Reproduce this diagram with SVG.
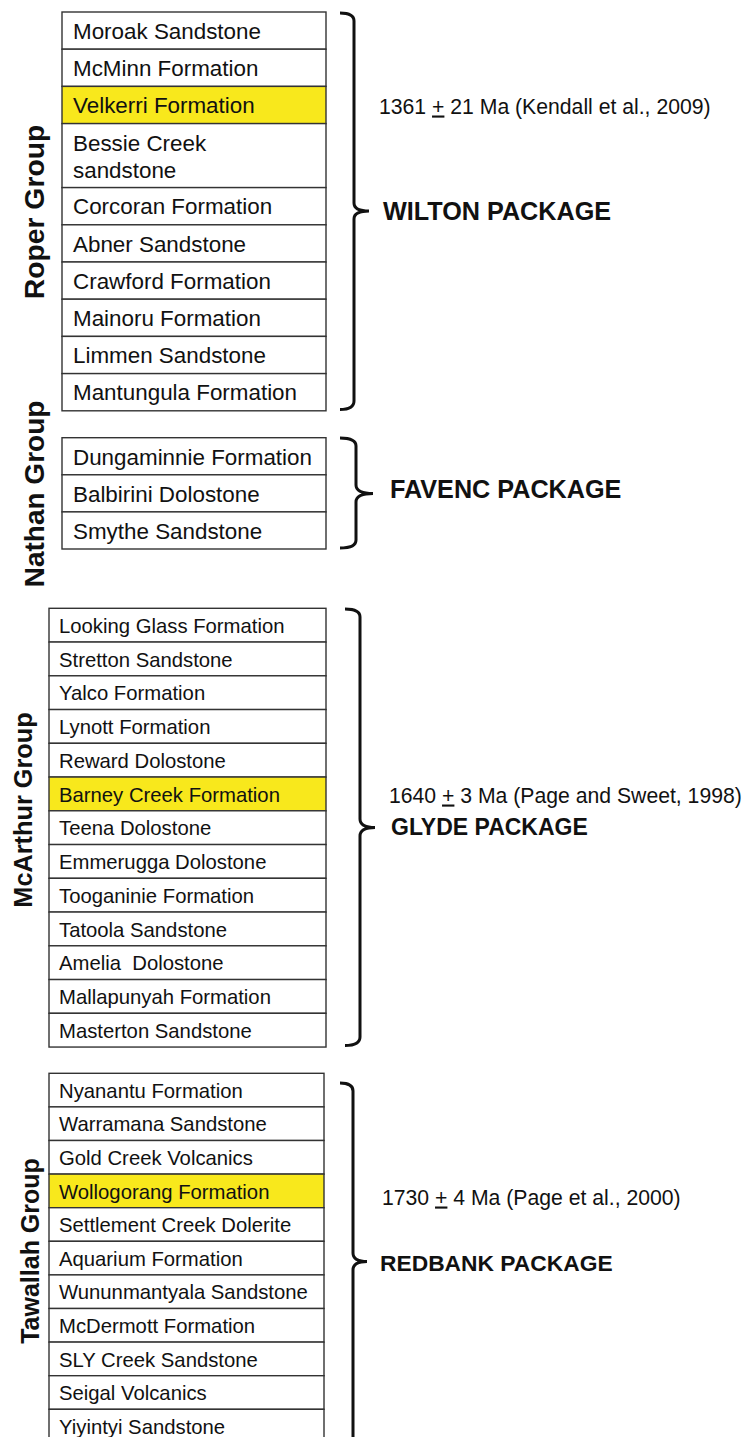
<svg xmlns="http://www.w3.org/2000/svg" width="745" height="1437" viewBox="0 0 745 1437">
<style>
.row{fill:#ffffff;stroke:#333333;stroke-width:1.4}
.hl{fill:#f8e81c;stroke:#333333;stroke-width:1.4}
.t22{font-family:"Liberation Sans",Arial,sans-serif;font-size:22.4px;fill:#111}
.t20{font-family:"Liberation Sans",Arial,sans-serif;font-size:20.3px;fill:#111}
.grp{font-family:"Liberation Sans",Arial,sans-serif;font-weight:bold;fill:#111;text-anchor:middle}
.ann{font-family:"Liberation Sans",Arial,sans-serif;font-size:21.2px;fill:#111}
.pkg{font-family:"Liberation Sans",Arial,sans-serif;font-weight:bold;fill:#111}
.br{fill:none;stroke:#111;stroke-width:3}
</style>
<rect x="0" y="0" width="745" height="1437" fill="#ffffff"/>

<!-- Roper Group -->
<g id="roper">
<g id="r1"><rect class="row" x="62" y="12" width="264" height="37.2"/><text class="t22" x="73" y="38.8">Moroak Sandstone</text></g>
<g id="r2"><rect class="row" x="62" y="49.2" width="264" height="37.2"/><text class="t22" x="73" y="76">McMinn Formation</text></g>
<g id="r3"><rect class="hl" x="62" y="86.4" width="264" height="37.2"/><text class="t22" x="73" y="113.2">Velkerri Formation</text></g>
<g id="r4"><rect class="row" x="62" y="123.6" width="264" height="64"/><text class="t22" x="73" y="151">Bessie Creek</text><text class="t22" x="73" y="177.8">sandstone</text></g>
<g id="r5"><rect class="row" x="62" y="187.6" width="264" height="37.2"/><text class="t22" x="73" y="214.4">Corcoran Formation</text></g>
<g id="r6"><rect class="row" x="62" y="224.8" width="264" height="37.2"/><text class="t22" x="73" y="251.6">Abner Sandstone</text></g>
<g id="r7"><rect class="row" x="62" y="262" width="264" height="37.2"/><text class="t22" x="73" y="288.8">Crawford Formation</text></g>
<g id="r8"><rect class="row" x="62" y="299.2" width="264" height="37.2"/><text class="t22" x="73" y="326">Mainoru Formation</text></g>
<g id="r9"><rect class="row" x="62" y="336.4" width="264" height="37.2"/><text class="t22" x="73" y="363.2">Limmen Sandstone</text></g>
<g id="r10"><rect class="row" x="62" y="373.6" width="264" height="37.2"/><text class="t22" x="73" y="400.4">Mantungula Formation</text></g>
</g>

<!-- Nathan Group -->
<g id="nathan">
<g id="n1"><rect class="row" x="62" y="437.7" width="264" height="37.1"/><text class="t22" x="73" y="464.5">Dungaminnie Formation</text></g>
<g id="n2"><rect class="row" x="62" y="474.8" width="264" height="37.1"/><text class="t22" x="73" y="501.6">Balbirini Dolostone</text></g>
<g id="n3"><rect class="row" x="62" y="511.9" width="264" height="37.1"/><text class="t22" x="73" y="538.7">Smythe Sandstone</text></g>
</g>

<!-- McArthur Group -->
<g id="mcarthur">
<g id="m1"><rect class="row" x="49" y="608.3" width="277" height="33.75"/><text class="t20" x="59" y="632.9">Looking Glass Formation</text></g>
<g id="m2"><rect class="row" x="49" y="642.05" width="277" height="33.75"/><text class="t20" x="59" y="666.6">Stretton Sandstone</text></g>
<g id="m3"><rect class="row" x="49" y="675.8" width="277" height="33.75"/><text class="t20" x="59" y="700.4">Yalco Formation</text></g>
<g id="m4"><rect class="row" x="49" y="709.55" width="277" height="33.75"/><text class="t20" x="59" y="734.1">Lynott Formation</text></g>
<g id="m5"><rect class="row" x="49" y="743.3" width="277" height="33.75"/><text class="t20" x="59" y="767.9">Reward Dolostone</text></g>
<g id="m6"><rect class="hl" x="49" y="777.05" width="277" height="33.75"/><text class="t20" x="59" y="801.6">Barney Creek Formation</text></g>
<g id="m7"><rect class="row" x="49" y="810.8" width="277" height="33.75"/><text class="t20" x="59" y="835.4">Teena Dolostone</text></g>
<g id="m8"><rect class="row" x="49" y="844.55" width="277" height="33.75"/><text class="t20" x="59" y="869.1">Emmerugga Dolostone</text></g>
<g id="m9"><rect class="row" x="49" y="878.3" width="277" height="33.75"/><text class="t20" x="59" y="902.9">Tooganinie Formation</text></g>
<g id="m10"><rect class="row" x="49" y="912.05" width="277" height="33.75"/><text class="t20" x="59" y="936.6">Tatoola Sandstone</text></g>
<g id="m11"><rect class="row" x="49" y="945.8" width="277" height="33.75"/><text class="t20" x="59" y="970.4" xml:space="preserve">Amelia  Dolostone</text></g>
<g id="m12"><rect class="row" x="49" y="979.55" width="277" height="33.75"/><text class="t20" x="59" y="1004.1">Mallapunyah Formation</text></g>
<g id="m13"><rect class="row" x="49" y="1013.3" width="277" height="33.75"/><text class="t20" x="59" y="1037.9">Masterton Sandstone</text></g>
</g>

<!-- Tawallah Group -->
<g id="tawallah">
<g id="w1"><rect class="row" x="49" y="1073.3" width="275" height="33.6"/><text class="t20" x="59" y="1097.8">Nyanantu Formation</text></g>
<g id="w2"><rect class="row" x="49" y="1106.9" width="275" height="33.6"/><text class="t20" x="59" y="1131.4">Warramana Sandstone</text></g>
<g id="w3"><rect class="row" x="49" y="1140.5" width="275" height="33.6"/><text class="t20" x="59" y="1165">Gold Creek Volcanics</text></g>
<g id="w4"><rect class="hl" x="49" y="1174.1" width="275" height="33.6"/><text class="t20" x="59" y="1198.6">Wollogorang Formation</text></g>
<g id="w5"><rect class="row" x="49" y="1207.7" width="275" height="33.6"/><text class="t20" x="59" y="1232.2">Settlement Creek Dolerite</text></g>
<g id="w6"><rect class="row" x="49" y="1241.3" width="275" height="33.6"/><text class="t20" x="59" y="1265.8">Aquarium Formation</text></g>
<g id="w7"><rect class="row" x="49" y="1274.9" width="275" height="33.6"/><text class="t20" x="59" y="1299.4">Wununmantyala Sandstone</text></g>
<g id="w8"><rect class="row" x="49" y="1308.5" width="275" height="33.6"/><text class="t20" x="59" y="1333">McDermott Formation</text></g>
<g id="w9"><rect class="row" x="49" y="1342.1" width="275" height="33.6"/><text class="t20" x="59" y="1366.6">SLY Creek Sandstone</text></g>
<g id="w10"><rect class="row" x="49" y="1375.7" width="275" height="33.6"/><text class="t20" x="59" y="1400.2">Seigal Volcanics</text></g>
<g id="w11"><rect class="row" x="49" y="1409.3" width="275" height="33.6"/><text class="t20" x="59" y="1433.8">Yiyintyi Sandstone</text></g>
</g>

<!-- Group labels -->
<g id="label-roper"><text class="grp" font-size="28.3" transform="translate(44,212) rotate(-90)">Roper Group</text></g>
<g id="label-nathan"><text class="grp" font-size="28" transform="translate(44,494) rotate(-90)">Nathan Group</text></g>
<g id="label-mcarthur"><text class="grp" font-size="25.3" transform="translate(32,810) rotate(-90)">McArthur Group</text></g>
<g id="label-tawallah"><text class="grp" font-size="25" transform="translate(39,1251) rotate(-90)">Tawallah Group</text></g>

<!-- Brackets -->
<g id="connectors">
<path class="br" d="M340 13 Q354 13 354 21 V203 Q354 211 369 211 Q354 211 354 219 V401 Q354 409.5 340 409.5"/>
<path class="br" d="M340 438 Q356 438 356 446 V485 Q356 493.5 373 493.5 Q356 493.5 356 502 V540 Q356 548 340 548"/>
<path class="br" d="M345 609 Q360 609 360 617 V819 Q360 827.5 375 827.5 Q360 827.5 360 836 V1037 Q360 1045.5 345 1045.5"/>
<path class="br" d="M340 1083 Q353 1083 353 1091 V1253 Q353 1261.5 367 1261.5 Q353 1261.5 353 1270 V1440"/>
</g>

<!-- Annotations -->
<g id="ann-wilton">
<text class="ann" x="379" y="113.5">1361 <tspan text-decoration="underline">+</tspan> 21 Ma (Kendall et al., 2009)</text>
<text class="pkg" font-size="25.2" x="383" y="220">WILTON PACKAGE</text>
</g>
<g id="ann-favenc">
<text class="pkg" font-size="25.2" x="390" y="498">FAVENC PACKAGE</text>
</g>
<g id="ann-glyde">
<text class="ann" x="389" y="802.5">1640 <tspan text-decoration="underline">+</tspan> 3 Ma (Page and Sweet, 1998)</text>
<text class="pkg" font-size="23" x="391" y="835">GLYDE PACKAGE</text>
</g>
<g id="ann-redbank">
<text class="ann" x="382" y="1204.5">1730 <tspan text-decoration="underline">+</tspan> 4 Ma (Page et al., 2000)</text>
<text class="pkg" font-size="22.8" x="380" y="1271">REDBANK PACKAGE</text>
</g>
</svg>
